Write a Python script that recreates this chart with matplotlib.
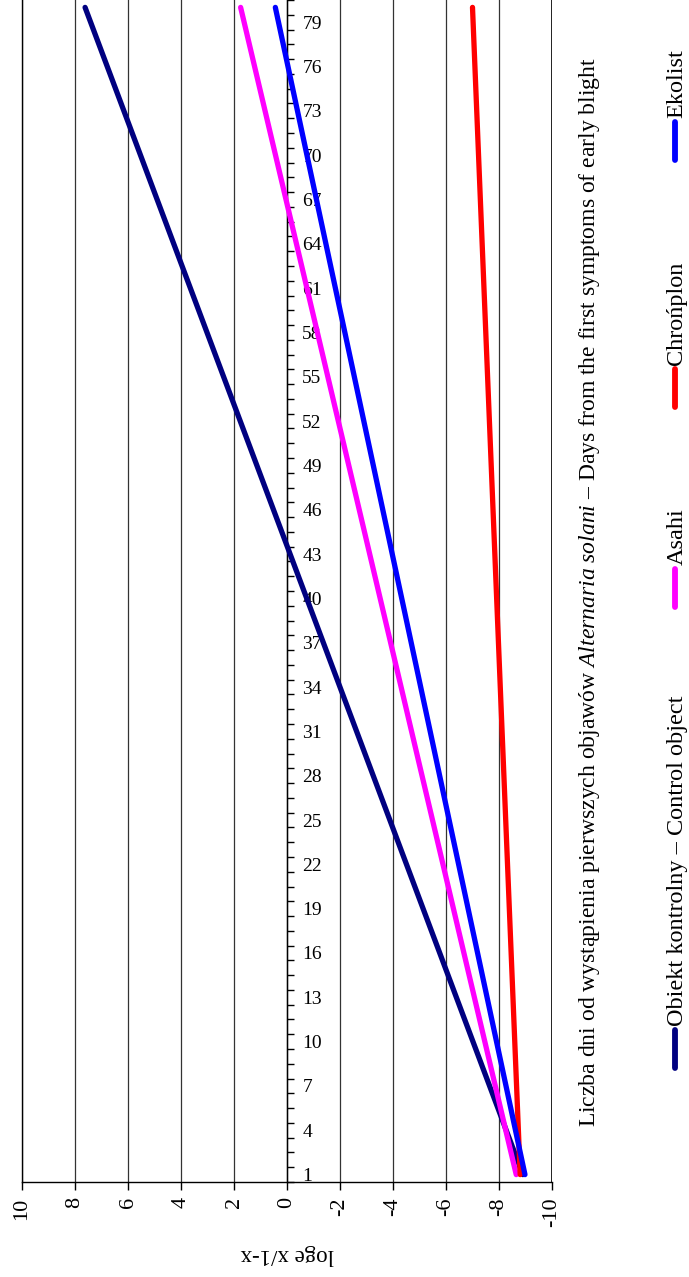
import matplotlib.pyplot as plt
from matplotlib.lines import Line2D
from matplotlib.ticker import FixedLocator, FixedFormatter, NullFormatter

# --- data: fitted lines, loge x/(1-x) at the first and last day ---
days = [1, 80]
control_vals = [-8.9, 7.62]
asahi_vals = [-8.65, 1.75]
chronplon_vals = [-8.8, -7.0]
ekolist_vals = [-8.98, 0.44]

series_names = ["Obiekt kontrolny – Control object", "Asahi", "Chrońplon", "Ekolist"]
series_vals = [control_vals, asahi_vals, chronplon_vals, ekolist_vals]
series_colors = ["#000080", "#FF00FF", "#FF0000", "#0000FF"]

value_ticks = [-10, -8, -6, -4, -2, 0, 2, 4, 6, 8, 10]
day_labels = list(range(1, 81, 3))

plt.rcParams['font.family'] = ['Liberation Serif', 'DejaVu Serif']
plt.rcParams['mathtext.fontset'] = 'custom'
plt.rcParams['mathtext.it'] = 'Liberation Serif:italic'
plt.rcParams['mathtext.rm'] = 'Liberation Serif'

fig = plt.figure(figsize=(6.89, 12.77), dpi=100)
ax = fig.add_axes([22 / 689, 95 / 1277, 530 / 689, 1182 / 1277])

# the chart is drawn turned on its side: values run right-to-left, days bottom-to-top
for vals, col in zip(series_vals, series_colors):
    ax.plot(vals, days, color=col, lw=3.8, solid_capstyle='round', zorder=3)

ax.set_xlim(10, -10)
ax.set_ylim(0.5, 80.5)

# value axis
ax.set_xticks(value_ticks)
ax.set_xticklabels([str(v) for v in value_ticks])
ax.tick_params(axis='x', direction='out', length=6, width=1, labelsize=16,
               labelrotation=90, pad=5)
ax.grid(axis='x', color='#333333', lw=0.9, zorder=1)
ax.axvline(-10, color='black', lw=1.2, zorder=2)
ax.set_xlabel("loge x/1-x", fontsize=16.5, rotation=180, labelpad=12)

# day axis sits on value 0
ax.spines['top'].set_visible(False)
ax.spines['right'].set_position(('data', 0))
ax.yaxis.tick_right()
ax.yaxis.set_major_locator(FixedLocator([d + 0.5 for d in range(0, 81)]))
ax.yaxis.set_major_formatter(NullFormatter())
ax.yaxis.set_minor_locator(FixedLocator(day_labels))
ax.yaxis.set_minor_formatter(FixedFormatter([str(d) for d in day_labels]))
ax.tick_params(axis='y', which='major', direction='out', length=5, width=1)
ax.tick_params(axis='y', which='minor', length=0, labelsize=14, pad=11,
               left=False, right=True, labelright=True, labelleft=False)
for s in ['left', 'bottom', 'right']:
    ax.spines[s].set_color('black')
    ax.spines[s].set_linewidth(1)

fig.text(590 / 689, 1 - 592 / 1277,
         r"Liczba dni od wystąpienia pierwszych objawów $\it{Alternaria\ solani}$ – Days from the first symptoms of early blight",
         rotation=90, ha='center', va='center', fontsize=17)

# legend, drawn by hand because it is turned too
leg_bottom = [1068, 607, 407, 160]
for name, col, yb in zip(series_names, series_colors, leg_bottom):
    fig.add_artist(Line2D([675 / 689, 675 / 689], [1 - yb / 1277, 1 - (yb - 38) / 1277],
                          color=col, lw=4.2, solid_capstyle='round',
                          transform=fig.transFigure))
    fig.text(677 / 689, 1 - (yb - 42) / 1277, name, rotation=90,
             ha='center', va='bottom', fontsize=17.5)

fig.savefig("out.png", dpi=100)
